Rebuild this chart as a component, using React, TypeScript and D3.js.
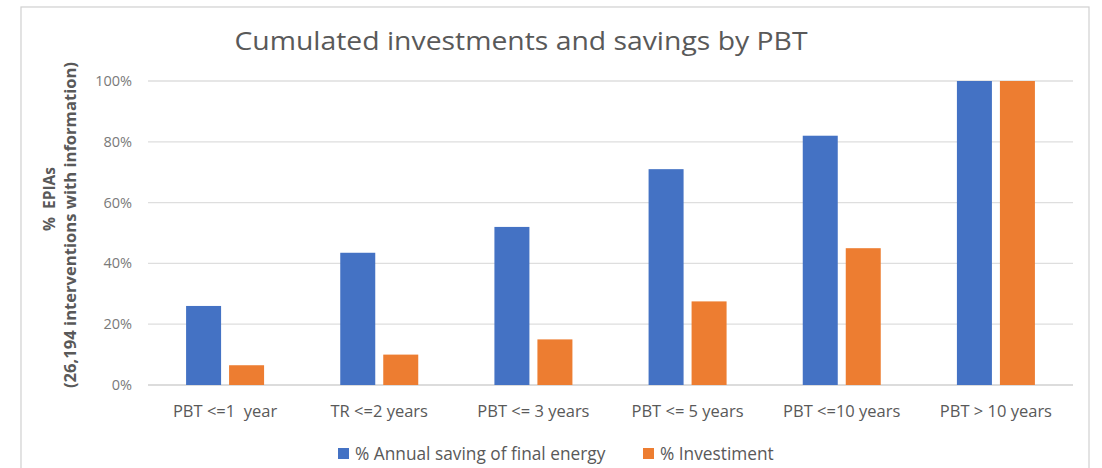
import React from "react";
import * as d3 from "d3";

const categories = ["PBT <=1  year", "TR <=2 years", "PBT <= 3 years", "PBT <= 5 years", "PBT <=10 years", "PBT > 10 years"];
const savingValues = [26, 43.5, 52, 71, 82, 100];
const investmentValues = [6.5, 10, 15, 27.5, 45, 100];
const yTicks = [0, 20, 40, 60, 80, 100];
const seriesNames = ["% Annual saving of final energy", "% Investiment"];
const seriesColors = ["#4472C4", "#ED7D31"];

const W = 1102;
const H = 468;
const font = "'Open Sans', 'Noto Sans', sans-serif";
const pre = { whiteSpace: "pre" as const };

export default function App() {
  const x = d3.scaleBand<string>().domain(categories).range([148, 1073]);
  const y = d3.scaleLinear().domain([0, 100]).range([385, 81]);
  const barW = 35;
  const gap = 8;
  const series = [savingValues, investmentValues];

  return (
    <svg width={W} height={H} style={{ position: "absolute", left: 0, top: 0, background: "#fff" }}>
      <rect x={21} y={7} width={1068} height={480} fill="#fff" stroke="#d0d0d0" strokeWidth={1.2} />
      <text x={521} y={50} textAnchor="middle" fontFamily={font} fontSize={26} fill="#595959"
        textLength={573} lengthAdjust="spacingAndGlyphs">
        Cumulated investments and savings by PBT
      </text>
      {yTicks.map((t) => (
        <g key={t}>
          <line x1={148} x2={1073} y1={y(t)} y2={y(t)} stroke={t === 0 ? "#d0d0d0" : "#dedede"} strokeWidth={1.3} />
          <text x={132} y={y(t) + 5} textAnchor="end" fontFamily={font} fontSize={14.5} fill="#7a7a7a">
            {t}%
          </text>
        </g>
      ))}
      {categories.map((c, i) => {
        const cx = (x(c) as number) + x.bandwidth() / 2;
        return (
          <g key={c}>
            {series.map((vals, s) => {
              const bx = s === 0 ? cx - gap / 2 - barW : cx + gap / 2;
              return (
                <rect key={s} x={bx} y={y(vals[i])} width={barW} height={y(0) - y(vals[i])} fill={seriesColors[s]} />
              );
            })}
            <text x={cx} y={417} textAnchor="middle" fontFamily={font} fontSize={16.5} fill="#595959" style={pre}>
              {c}
            </text>
          </g>
        );
      })}
      <g transform="translate(55,199) rotate(-90)">
        <text x={0} y={0} textAnchor="middle" fontFamily={font} fontSize={15.5} fontWeight="bold" fill="#595959" style={pre}>
          {"%  EPIAs"}
        </text>
      </g>
      <g transform="translate(76,225) rotate(-90)">
        <text x={0} y={0} textAnchor="middle" fontFamily={font} fontSize={15.5} fontWeight="bold" fill="#595959"
          textLength={326} lengthAdjust="spacingAndGlyphs">
          (26,194 interventions with information)
        </text>
      </g>
      <rect x={338} y={448} width={11} height={11} fill={seriesColors[0]} />
      <text x={355} y={460} fontFamily={font} fontSize={17.3} fill="#595959">{seriesNames[0]}</text>
      <rect x={643} y={448} width={11} height={11} fill={seriesColors[1]} />
      <text x={660} y={460} fontFamily={font} fontSize={17.3} fill="#595959">{seriesNames[1]}</text>
    </svg>
  );
}
